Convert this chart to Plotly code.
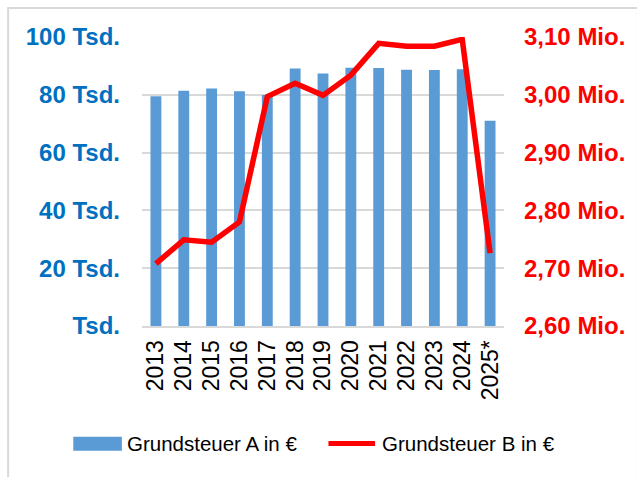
import plotly.graph_objects as go

years = ["2013", "2014", "2015", "2016", "2017", "2018", "2019", "2020",
         "2021", "2022", "2023", "2024", "2025*"]
grundsteuer_a_tsd = [79.5, 81.4, 82.2, 81.2, 79.9, 89.1, 87.4, 89.4, 89.3, 88.7, 88.6, 88.8, 71.0]
grundsteuer_b_mio = [2.708, 2.749, 2.745, 2.780, 2.997, 3.020, 2.999, 3.034, 3.089, 3.084, 3.084, 3.096, 2.726]

left_tickvals = [0, 20, 40, 60, 80, 100]
left_ticktext = ["Tsd.", "20 Tsd.", "40 Tsd.", "60 Tsd.", "80 Tsd.", "100 Tsd."]
right_tickvals = [2.6, 2.7, 2.8, 2.9, 3.0, 3.1]
right_ticktext = ["2,60 Mio.", "2,70 Mio.", "2,80 Mio.", "2,90 Mio.", "3,00 Mio.", "3,10 Mio."]

legend_a = "Grundsteuer A in €"
legend_b = "Grundsteuer B in €"

BLUE = "#5B9BD5"
RED = "#FF0000"
GRID = "#D9D9D9"
W, H = 637, 477
ML, MR, MT, MB = 142, 130, 37, 151
PW = W - ML - MR
PH = H - MT - MB

def px(x):
    return (x - ML) / PW

def py(y):
    return (H - MB - y) / PH

fig = go.Figure()
fig.add_trace(go.Bar(x=years, y=grundsteuer_a_tsd, marker_color=BLUE,
                     marker_line_width=0, name=legend_a, showlegend=False))
fig.add_trace(go.Scatter(x=years, y=grundsteuer_b_mio, yaxis="y2", mode="lines",
                         line=dict(color=RED, width=5.5), name=legend_b,
                         showlegend=False))

fig.update_layout(
    width=W, height=H,
    margin=dict(l=ML, r=MR, t=MT, b=MB),
    paper_bgcolor="white", plot_bgcolor="white",
    bargap=0.61,
    showlegend=False,
    xaxis=dict(
        type="category", tickangle=-90, showgrid=False,
        tickmode="array", tickvals=years, ticktext=years,
        showline=True, linecolor=GRID, linewidth=2,
        ticks="", ticklabelstandoff=3,
        tickfont=dict(family="Liberation Sans, Arial", size=23, color="black"),
    ),
    yaxis=dict(
        range=[0, 100], tickvals=left_tickvals, ticktext=left_ticktext,
        showgrid=True, gridcolor=GRID, gridwidth=1.5, zeroline=False,
        ticks="", ticklabelstandoff=21,
        tickfont=dict(family="Liberation Sans, Arial", size=24, color="#0070C0", weight="bold"),
    ),
    yaxis2=dict(
        range=[2.6, 3.1], tickvals=right_tickvals, ticktext=right_ticktext,
        overlaying="y", side="right", showgrid=False, zeroline=False,
        ticks="", ticklabelstandoff=19,
        tickfont=dict(family="Liberation Sans, Arial", size=24, color=RED, weight="bold"),
    ),
    shapes=[
        dict(type="rect", xref="paper", yref="paper",
             x0=px(7), x1=px(W + 5), y0=py(H + 5), y1=py(8),
             line=dict(color=GRID, width=2), fillcolor="rgba(0,0,0,0)", layer="above"),
        dict(type="rect", xref="paper", yref="paper",
             x0=px(72.7), x1=px(121.7), y0=py(450.7), y1=py(436.7),
             line=dict(width=0), fillcolor=BLUE),
        dict(type="line", xref="paper", yref="paper",
             x0=px(330), x1=px(377), y0=py(443.5), y1=py(443.5),
             line=dict(color=RED, width=5)),
    ],
    annotations=[
        dict(text=legend_a, xref="paper", yref="paper", x=px(125), y=py(443.5),
             xanchor="left", yanchor="middle", showarrow=False,
             font=dict(family="Liberation Sans, Arial", size=20.5, color="black")),
        dict(text=legend_b, xref="paper", yref="paper", x=px(381.5), y=py(443.5),
             xanchor="left", yanchor="middle", showarrow=False,
             font=dict(family="Liberation Sans, Arial", size=20.5, color="black")),
    ],
)

fig.write_html("out.html", config={"displayModeBar": False},
               post_script="document.body.style.margin='0px';document.body.style.overflow='hidden';")
